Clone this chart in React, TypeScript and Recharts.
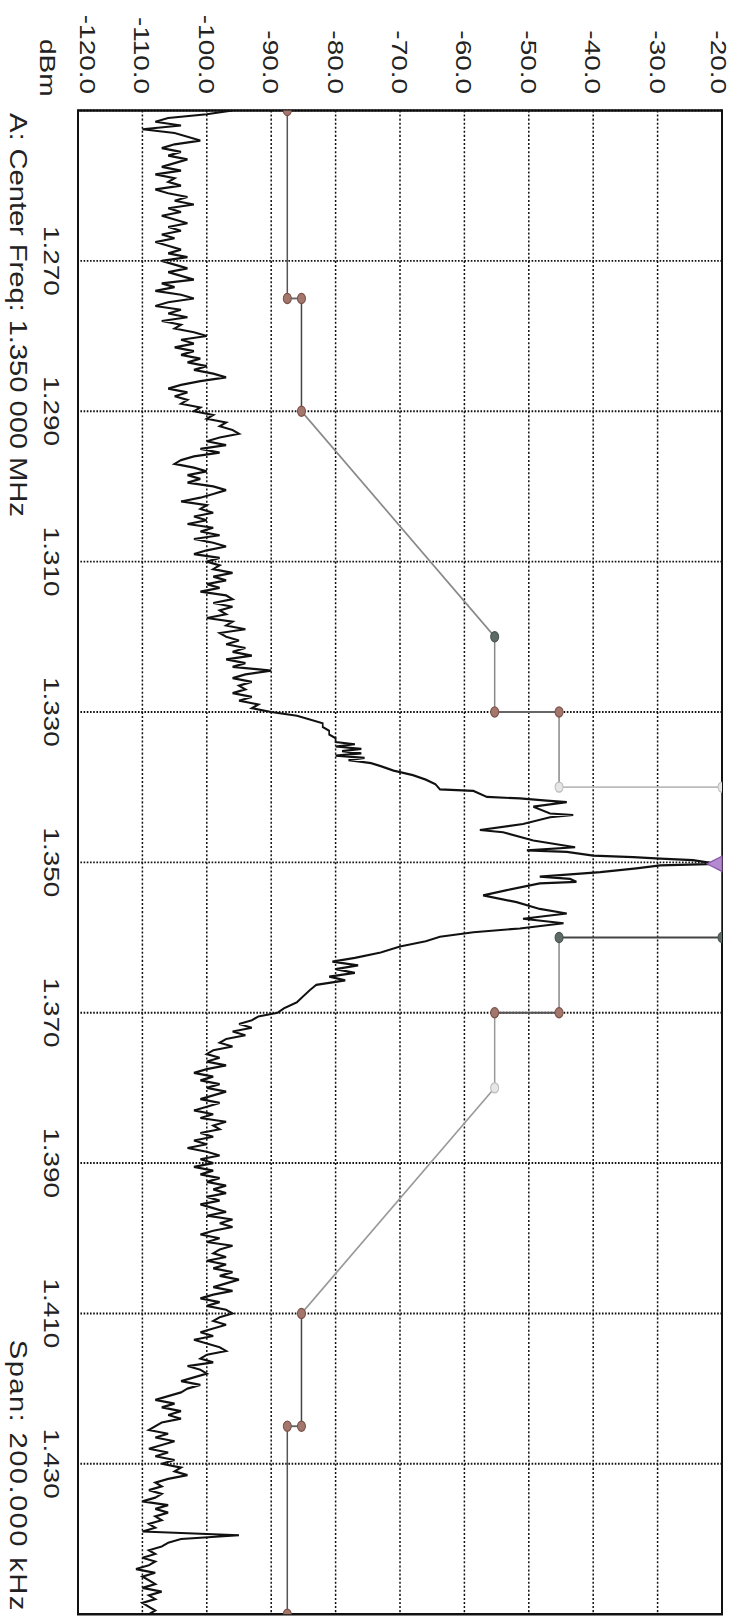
import React from "react"
import { LineChart, Line, XAxis, YAxis, CartesianGrid, ReferenceArea, ReferenceDot } from "recharts"

// the scan is stretched along the frequency direction, so we draw narrow and scale
const STRETCH = 1.27
const W = 1273
const H = 744
const FONT = "'Liberation Sans', Arial, sans-serif"
const INK = "#222"

const freqTicks = [1.27, 1.29, 1.31, 1.33, 1.35, 1.37, 1.39, 1.41, 1.43]
const levelTicks = [-120, -110, -100, -90, -80, -70, -60, -50, -40, -30, -20]

// trace sampled every 0.5 kHz
const STEP = 0.0005
const LOW_START = 1.25 // 1.2500 .. 1.2995
const lowSide = [
  -96, -100, -106, -108, -104, -110, -105, -103, -101, -105,
  -107, -104, -106, -103, -105, -107, -104, -108, -105, -106,
  -104, -108, -106, -103, -105, -102, -106, -104, -107, -105,
  -103, -106, -104, -107, -105, -108, -106, -104, -106, -103,
  -107, -105, -103, -106, -104, -102, -107, -105, -108, -104,
  -102, -106, -108, -104, -106, -103, -107, -104, -105, -102,
  -100, -104, -102, -105, -102, -104, -101, -103, -100, -102,
  -99, -97, -101, -104, -106, -103, -105, -103, -104, -101,
  -102, -99, -100, -97, -98, -96, -95, -98, -100, -97,
  -101, -98, -102, -104, -105, -102, -100, -103, -101, -103,
  -99, -97, -99, -101, -104, -100, -101, -99, -102, -100,
  -103, -99, -101, -98, -102, -99, -97, -100, -102, -98,
  -100, -98, -99, -96, -99, -97, -100, -98, -101, -97,
  -96, -99, -96, -98, -97, -100, -96, -97, -94, -98,
  -97, -95, -97, -94, -96, -93, -97, -94, -96, -90,
  -94, -96, -93, -95, -94, -96, -93, -95, -92, -93,
]

// around the carrier: [MHz, dBm]
const carrier = [
  [1.33, -90], [1.3305, -86], [1.331, -84], [1.3315, -82], [1.332, -82],
  [1.3325, -81], [1.333, -81], [1.3335, -80], [1.334, -80], [1.3343, -77],
  [1.3346, -80], [1.3349, -76], [1.3352, -79], [1.3355, -76], [1.3358, -80],
  [1.3361, -75.5], [1.3364, -78], [1.3368, -74.5], [1.3372, -73], [1.3378, -71],
  [1.3384, -68], [1.339, -66], [1.3396, -64.5], [1.3403, -63.8], [1.3405, -58.6],
  [1.3413, -56.5], [1.3415, -51.4], [1.3418, -47.2], [1.342, -44.1], [1.3426, -49.3],
  [1.3435, -46.7], [1.3437, -43.1], [1.344, -46.7], [1.3449, -50.9], [1.3457, -57.6],
  [1.346, -54], [1.3471, -49.3], [1.348, -42.8], [1.3484, -50.3], [1.3486, -44.1],
  [1.3491, -40], [1.3493, -33.8], [1.3495, -29.6], [1.3497, -24.5], [1.3502, -20.8],
  [1.3504, -29.6], [1.3508, -33.3], [1.3513, -38.9], [1.3515, -42], [1.3519, -48.3],
  [1.3522, -43.6], [1.3526, -42.6], [1.3528, -48.3], [1.3537, -53.4], [1.3544, -57.1],
  [1.3553, -51.9], [1.3562, -48.3], [1.3568, -44.1], [1.3575, -50.9], [1.3581, -44.6],
  [1.3588, -51.4], [1.3593, -58.6], [1.3599, -63.8], [1.3605, -66], [1.3612, -70],
  [1.362, -73], [1.3627, -77], [1.3632, -80.5], [1.3637, -76.5], [1.3642, -80],
  [1.3647, -77], [1.3652, -81], [1.3657, -78.5], [1.3663, -83], [1.367, -84],
  [1.3678, -85], [1.3686, -86], [1.3694, -88], [1.37, -89], [1.3705, -92],
]

const HIGH_START = 1.371 // 1.3710 .. 1.4500
const highSide = [
  -93, -95, -93, -96, -94, -97, -98, -96, -99, -100,
  -98, -100, -97, -100, -102, -99, -101, -98, -100, -97,
  -99, -101, -98, -100, -102, -99, -101, -97, -99, -98,
  -101, -99, -102, -100, -103, -100, -98, -101, -99, -102,
  -99, -101, -98, -100, -97, -99, -97, -100, -98, -101,
  -99, -97, -100, -96, -98, -96, -99, -101, -98, -100,
  -96, -98, -99, -97, -100, -97, -99, -96, -98, -95,
  -97, -99, -96, -99, -101, -98, -100, -97, -96, -98,
  -99, -97, -99, -101, -99, -102, -100, -98, -97, -100,
  -101, -99, -103, -101, -100, -102, -104, -101, -103, -104,
  -106, -108, -105, -107, -104, -106, -104, -107, -108, -109,
  -106, -108, -105, -107, -109, -106, -108, -105, -107, -104,
  -105, -103, -106, -108, -107, -109, -107, -108, -110, -106,
  -108, -106, -108, -107, -109, -108, -110, -95, -104, -106,
  -107, -109, -108, -110, -108, -109, -111, -108, -110, -109,
  -108, -110, -107, -109, -108, -110, -109, -108, -109,
]

// spectrum mask
const maskFreq = [1.25, 1.275, 1.275, 1.29, 1.32, 1.33, 1.33, 1.34, 1.34, 1.36, 1.36, 1.37, 1.37, 1.38, 1.41, 1.425, 1.425, 1.45]
const maskLevel = [-87.5, -87.5, -85.3, -85.3, -55.3, -55.3, -45.3, -45.3, -20, -20, -45.3, -45.3, -55.3, -55.3, -85.3, -85.3, -87.5, -87.5]
const maskMarker = ["b", "b", "b", "b", "g", "b", "b", "l", "l", "g", "g", "b", "b", "l", "b", "b", "b", "b"]
const maskSegColor = ["#555", "#666", "#444", "#888", "#888", "#666", "#888", "#bbb", "#666", "#444", "#888", "#555", "#999", "#999", "#444", "#666", "#555"]

const MARKER = {
  b: { fill: "#a3776c", stroke: "#7a5048" },
  g: { fill: "#5d6b66", stroke: "#46524e" },
  l: { fill: "#e6e6e6", stroke: "#bbb" },
}

const r4 = (n) => Math.round(n * 10000) / 10000

const trace = [
  ...lowSide.map((v, i) => ({ f: r4(LOW_START + i * STEP), v })),
  ...carrier.map(([f, v]) => ({ f, v })),
  ...highSide.map((v, i) => ({ f: r4(HIGH_START + i * STEP), v })),
]

const peak = carrier.reduce((a, b) => (b[1] > a[1] ? b : a))

const mask = maskFreq.map((f, i) => ({ f, v: maskLevel[i], m: maskMarker[i] }))
const maskSegs = maskSegColor.map((c, i) => ({ color: c, data: [mask[i], mask[i + 1]] }))

const YTick = ({ x, y, payload }) => {
  // end labels are pulled inwards a bit on the original
  const shift = payload.value === -120 ? -10 : payload.value === -20 ? 3 : 0
  return (
    <text x={x} y={y + shift} dy="0.36em" textAnchor="end" fontSize={22} fontFamily={FONT} fill={INK}>
      {payload.value.toFixed(1)}
    </text>
  )
}

const XTick = ({ x, y, payload }) => (
  <text x={x} y={y} dy="0.72em" textAnchor="middle" fontSize={22} fontFamily={FONT} fill={INK}>
    {payload.value.toFixed(3)}
  </text>
)

const MaskDot = (props) => {
  const { cx, cy, payload, index } = props
  const s = MARKER[payload.m]
  return <circle key={`md-${index}`} cx={cx} cy={cy} r={4} fill={s.fill} stroke={s.stroke} strokeWidth={1} />
}

const PeakMark = ({ cx, cy }) => (
  <polygon points={`${cx - 6},${cy} ${cx + 6},${cy} ${cx},${cy + 15}`} fill="#b48ad0" stroke="#8a5aa8" strokeWidth={1} />
)

export default function App() {
  return (
    <div
      style={{
        position: "absolute",
        left: 0,
        top: 0,
        width: W,
        height: H,
        background: "#fff",
        transformOrigin: "0 0",
        transform: `translate(${H}px, 0) rotate(90deg) scaleX(${STRETCH})`,
      }}
    >
      <style>{"html,body{margin:0;overflow:hidden;background:#fff}"}</style>
      <LineChart width={W} height={H} margin={{ top: 22, right: 2, bottom: 0, left: 0 }}>
        <CartesianGrid stroke="#111" strokeDasharray="1.6 1.6" strokeWidth={1.5} />
        <XAxis
          type="number"
          dataKey="f"
          domain={[1.25, 1.45]}
          ticks={freqTicks}
          allowDataOverflow
          axisLine={false}
          tickLine={false}
          tickSize={0}
          tickMargin={18}
          height={78}
          tick={<XTick />}
        />
        <YAxis
          type="number"
          domain={[-120, -20]}
          ticks={levelTicks}
          allowDataOverflow
          axisLine={false}
          tickLine={false}
          tickSize={0}
          tickMargin={13}
          width={87}
          tick={<YTick />}
        />
        {maskSegs.map((s, i) => (
          <Line
            key={`seg-${i}`}
            data={s.data}
            dataKey="v"
            stroke={s.color}
            strokeWidth={1.5}
            dot={false}
            isAnimationActive={false}
          />
        ))}
        <Line
          data={trace}
          dataKey="v"
          stroke="#111"
          strokeWidth={1.7}
          dot={false}
          isAnimationActive={false}
        />
        <Line data={mask} dataKey="v" stroke="none" dot={MaskDot} isAnimationActive={false} />
        <ReferenceArea x1={1.25} x2={1.45} y1={-120} y2={-20} fill="none" stroke="#111" strokeWidth={2} ifOverflow="visible" />
        <ReferenceDot x={peak[0]} y={-20} r={6} shape={PeakMark} ifOverflow="visible" />
      </LineChart>
      <svg width={W} height={H} style={{ position: "absolute", left: 0, top: 0, pointerEvents: "none" }}>
        <text x={76} y={704} textAnchor="end" fontSize={22} fontFamily={FONT} fill={INK}>
          dBm
        </text>
        <text x={89} y={734} fontSize={23} fontFamily={FONT} fill={INK} textLength={318} lengthAdjust="spacing">
          A: Center Freq: 1.350 000 MHz
        </text>
        <text x={1268} y={734} textAnchor="end" fontSize={23} fontFamily={FONT} fill={INK} textLength={213} lengthAdjust="spacing">
          Span: 200.000 kHz
        </text>
      </svg>
    </div>
  )
}
